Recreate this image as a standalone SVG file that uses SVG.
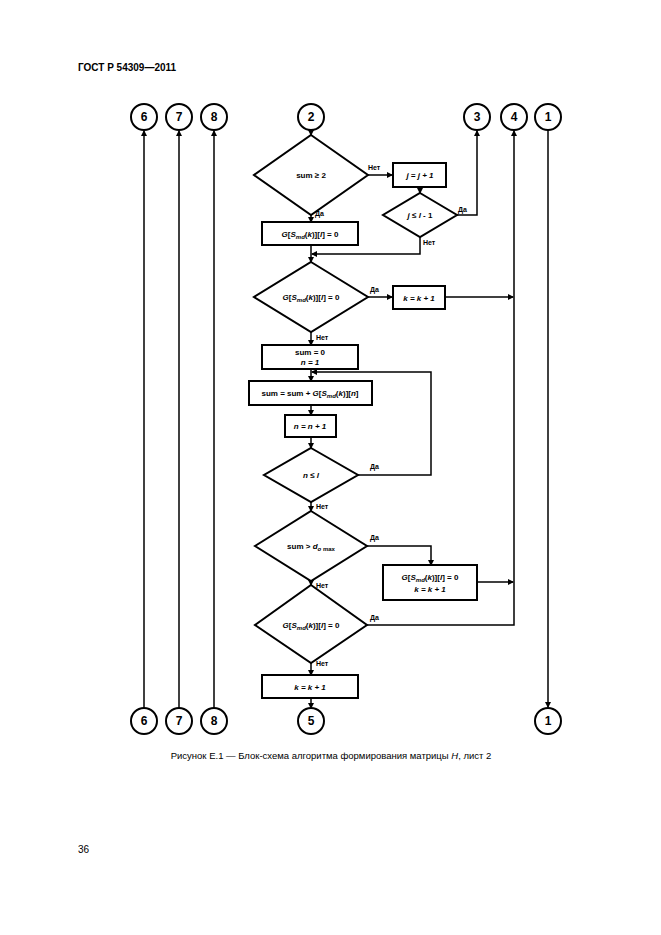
<svg xmlns="http://www.w3.org/2000/svg" width="661" height="935" viewBox="0 0 661 935">
<style>
text{font-family:"Liberation Sans",Arial,sans-serif;font-size:8px;font-weight:bold;fill:#000}
.n{fill:#fff;stroke:#000;stroke-width:2}
.c{fill:none;stroke:#000;stroke-width:1.5}
.ct{font-size:12px;text-anchor:middle}
.m{text-anchor:middle}
.l{font-size:7px}
</style>
<defs><marker id="a" markerWidth="6" markerHeight="6" refX="5" refY="3" orient="auto" markerUnits="userSpaceOnUse"><path d="M0,0L6,3L0,6z" fill="#000"/></marker></defs>
<rect width="661" height="935" fill="#fff"/>
<text x="78" y="71" style="font-size:10px">ГОСТ Р 54309—2011</text>
<g id="connectors" class="c" marker-end="url(#a)">
<line x1="144" y1="708" x2="144" y2="131"/>
<line x1="179" y1="708" x2="179" y2="131"/>
<line x1="214" y1="708" x2="214" y2="131"/>
<line x1="548" y1="130" x2="548" y2="707"/>
<polyline points="311,625 514,625 514,131"/>
<line x1="311" y1="130" x2="311" y2="135"/>
<line x1="368" y1="175" x2="392" y2="175"/>
<line x1="420" y1="187" x2="420" y2="193"/>
<polyline points="457,215 477,215 477,131"/>
<polyline points="420,237 420,254 312,254"/>
<line x1="311" y1="215" x2="311" y2="222"/>
<line x1="311" y1="245" x2="311" y2="262"/>
<line x1="368" y1="297" x2="392" y2="297"/>
<line x1="445" y1="297" x2="513" y2="297"/>
<line x1="311" y1="332" x2="311" y2="345"/>
<line x1="311" y1="369" x2="311" y2="381"/>
<line x1="311" y1="405" x2="311" y2="415"/>
<line x1="311" y1="437" x2="311" y2="448"/>
<polyline points="358,475 431,475 431,372 312,372"/>
<line x1="311" y1="502" x2="311" y2="511"/>
<polyline points="367,546 431,546 431,565"/>
<line x1="477" y1="582" x2="513" y2="582"/>
<line x1="311" y1="581" x2="311" y2="585"/>
<line x1="311" y1="663" x2="311" y2="675"/>
<line x1="311" y1="698" x2="311" y2="708"/>
</g>
<g id="c6t"><circle class="n" cx="144" cy="117" r="13"/><text class="ct" x="144" y="121">6</text></g>
<g id="c7t"><circle class="n" cx="179" cy="117" r="13"/><text class="ct" x="179" y="121">7</text></g>
<g id="c8t"><circle class="n" cx="214" cy="117" r="13"/><text class="ct" x="214" y="121">8</text></g>
<g id="c2t"><circle class="n" cx="311" cy="117" r="13"/><text class="ct" x="311" y="121">2</text></g>
<g id="c3t"><circle class="n" cx="477" cy="117" r="13"/><text class="ct" x="477" y="121">3</text></g>
<g id="c4t"><circle class="n" cx="514" cy="117" r="13"/><text class="ct" x="514" y="121">4</text></g>
<g id="c1t"><circle class="n" cx="548" cy="117" r="13"/><text class="ct" x="548" y="121">1</text></g>
<g id="c6b"><circle class="n" cx="144" cy="721" r="13"/><text class="ct" x="144" y="725">6</text></g>
<g id="c7b"><circle class="n" cx="179" cy="721" r="13"/><text class="ct" x="179" y="725">7</text></g>
<g id="c8b"><circle class="n" cx="214" cy="721" r="13"/><text class="ct" x="214" y="725">8</text></g>
<g id="c5b"><circle class="n" cx="311" cy="721" r="13"/><text class="ct" x="311" y="725">5</text></g>
<g id="c1b"><circle class="n" cx="548" cy="721" r="13"/><text class="ct" x="548" y="725">1</text></g>
<g id="d1"><polygon class="n" points="311,135 368,175 311,215 254,175"/><text class="m" x="311" y="178">sum ≥ 2</text></g>
<g id="b1"><rect class="n" x="393" y="163" width="53" height="24"/><text class="m" x="420" y="178" font-style="italic">j = j + 1</text></g>
<g id="d2"><polygon class="n" points="420,193 457,215 420,237 383,215"/><text class="m" x="420" y="218"><tspan font-style="italic">j ≤ l</tspan> - 1</text></g>
<g id="b2"><rect class="n" x="262" y="222" width="96" height="23"/><text class="m" x="310" y="237"><tspan font-style="italic">G</tspan>[<tspan font-style="italic">S</tspan><tspan font-style="italic" font-size="6" dy="2">md</tspan><tspan dy="-2">(</tspan><tspan font-style="italic">k</tspan>)][<tspan font-style="italic">l</tspan>] = 0</text></g>
<g id="d3"><polygon class="n" points="311,262 368,297 311,332 254,297"/><text class="m" x="311" y="300"><tspan font-style="italic">G</tspan>[<tspan font-style="italic">S</tspan><tspan font-style="italic" font-size="6" dy="2">md</tspan><tspan dy="-2">(</tspan><tspan font-style="italic">k</tspan>)][<tspan font-style="italic">l</tspan>] = 0</text></g>
<g id="b3"><rect class="n" x="393" y="286" width="52" height="23"/><text class="m" x="419" y="301" font-style="italic">k = k + 1</text></g>
<g id="b4"><rect class="n" x="262" y="345" width="96" height="24"/><text class="m" x="310" y="355">sum = 0</text><text class="m" x="310" y="365" font-style="italic">n = 1</text></g>
<g id="b5"><rect class="n" x="249" y="381" width="123" height="24" stroke-width="3"/><text class="m" x="310" y="396">sum = sum + <tspan font-style="italic">G</tspan>[<tspan font-style="italic">S</tspan><tspan font-style="italic" font-size="6" dy="2">md</tspan><tspan dy="-2">(</tspan><tspan font-style="italic">k</tspan>)][<tspan font-style="italic">n</tspan>]</text></g>
<g id="b6"><rect class="n" x="285" y="415" width="51" height="22"/><text class="m" x="310" y="429" font-style="italic">n = n + 1</text></g>
<g id="d4"><polygon class="n" points="311,448 358,475 311,502 264,475"/><text class="m" x="311" y="478" font-style="italic">n ≤ l</text></g>
<g id="d5"><polygon class="n" points="311,511 367,546 311,581 255,546"/><text class="m" x="311" y="549">sum &gt; <tspan font-style="italic">d</tspan><tspan font-size="6" dy="2"><tspan font-style="italic">o</tspan> max</tspan></text></g>
<g id="b7"><rect class="n" x="383" y="565" width="94" height="35"/><text class="m" x="430" y="580"><tspan font-style="italic">G</tspan>[<tspan font-style="italic">S</tspan><tspan font-style="italic" font-size="6" dy="2">md</tspan><tspan dy="-2">(</tspan><tspan font-style="italic">k</tspan>)][<tspan font-style="italic">l</tspan>] = 0</text><text class="m" x="430" y="592" font-style="italic">k = k + 1</text></g>
<g id="d6"><polygon class="n" points="311,585 367,625 311,663 255,625"/><text class="m" x="311" y="628"><tspan font-style="italic">G</tspan>[<tspan font-style="italic">S</tspan><tspan font-style="italic" font-size="6" dy="2">md</tspan><tspan dy="-2">(</tspan><tspan font-style="italic">k</tspan>)][<tspan font-style="italic">l</tspan>] = 0</text></g>
<g id="b8"><rect class="n" x="262" y="675" width="96" height="23"/><text class="m" x="310" y="690" font-style="italic">k = k + 1</text></g>
<g id="labels">
<text class="l" x="368" y="170">Нет</text>
<text class="l" x="315" y="216">Да</text>
<text class="l" x="458" y="212">Да</text>
<text class="l" x="423" y="245">Нет</text>
<text class="l" x="370" y="292">Да</text>
<text class="l" x="316" y="340">Нет</text>
<text class="l" x="370" y="469">Да</text>
<text class="l" x="316" y="509">Нет</text>
<text class="l" x="370" y="540">Да</text>
<text class="l" x="316" y="588">Нет</text>
<text class="l" x="370" y="620">Да</text>
<text class="l" x="316" y="666">Нет</text>
</g>
<text x="331" y="759" text-anchor="middle" style="font-weight:normal;font-size:9.5px">Рисунок Е.1 — Блок-схема алгоритма формирования матрицы <tspan font-style="italic">H</tspan>, лист 2</text>
<text x="78" y="853" style="font-weight:normal;font-size:10px">36</text>
</svg>
